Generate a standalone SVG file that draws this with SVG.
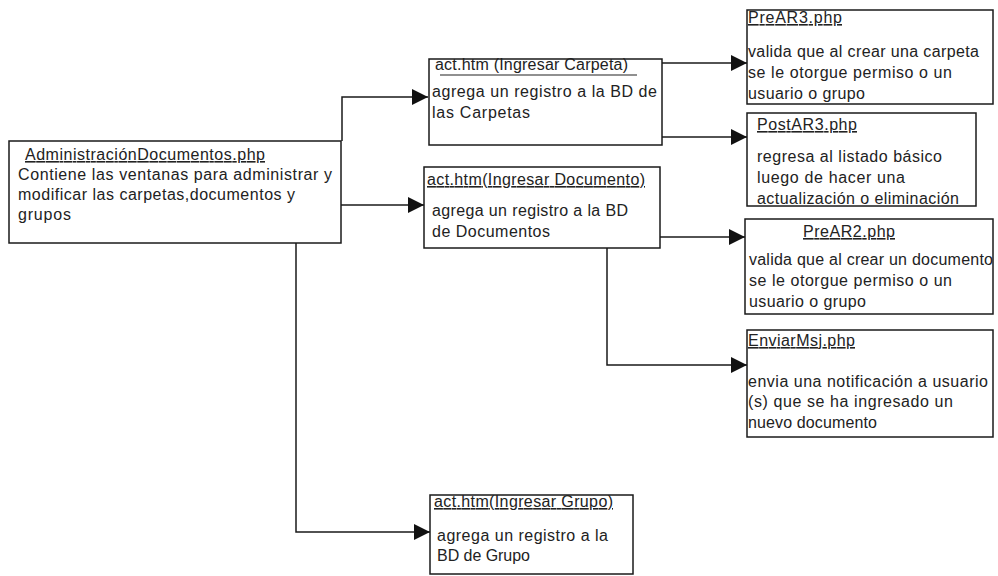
<svg xmlns="http://www.w3.org/2000/svg" width="998" height="576" viewBox="0 0 998 576">
<style>
.box{fill:none;stroke:#1a1a1a;stroke-width:1.5}
.t{font-family:"Liberation Sans",Arial,sans-serif;font-size:16px;fill:#222}
.u{text-decoration:underline}
.c{fill:none;stroke:#1a1a1a;stroke-width:1.5}
</style>
<defs>
<marker id="ah" markerUnits="userSpaceOnUse" markerWidth="17" markerHeight="17" refX="16" refY="8" orient="auto">
<path d="M0,0 L16,8 L0,16 Z" fill="#111"/>
</marker>
</defs>
<rect width="998" height="576" fill="#fff"/>
<g id="connectors">
<path class="c" d="M342,141 V97 H428" marker-end="url(#ah)"/>
<path class="c" d="M341,205 H424" marker-end="url(#ah)"/>
<path class="c" d="M296,243 V532 H430" marker-end="url(#ah)"/>
<path class="c" d="M662,63 H747" marker-end="url(#ah)"/>
<path class="c" d="M662,137 H747" marker-end="url(#ah)"/>
<path class="c" d="M660,237 H745" marker-end="url(#ah)"/>
<path class="c" d="M607,248 V365 H747" marker-end="url(#ah)"/>
</g>
<g id="admin">
<rect class="box" x="9" y="141" width="332" height="102"/>
<text class="t u" x="25" y="160" textLength="240" lengthAdjust="spacing">AdministraciónDocumentos.php</text>
<text class="t" x="18" y="180" textLength="314" lengthAdjust="spacing">Contiene las ventanas para administrar y</text>
<text class="t" x="18" y="200" textLength="277" lengthAdjust="spacing">modificar las carpetas,documentos y</text>
<text class="t" x="18" y="220" textLength="53" lengthAdjust="spacing">grupos</text>
</g>
<g id="carpeta">
<rect class="box" x="429" y="59" width="233" height="86"/>
<text class="t" x="435" y="70" textLength="193" lengthAdjust="spacing">act.htm (Ingresar Carpeta)</text>
<line x1="440" y1="75" x2="637" y2="75" stroke="#222" stroke-width="1.2"/>
<text class="t" x="432" y="97" textLength="225" lengthAdjust="spacing">agrega un registro a la BD de</text>
<text class="t" x="432" y="118" textLength="98" lengthAdjust="spacing">las Carpetas</text>
</g>
<g id="documento">
<rect class="box" x="424" y="167" width="236" height="81"/>
<text class="t u" x="427" y="185" textLength="218" lengthAdjust="spacing">act.htm(Ingresar Documento)</text>
<text class="t" x="432" y="216" textLength="196" lengthAdjust="spacing">agrega un registro a la BD</text>
<text class="t" x="432" y="237" textLength="118" lengthAdjust="spacing">de Documentos</text>
</g>
<g id="grupo">
<rect class="box" x="430" y="495" width="203" height="79"/>
<text class="t u" x="434" y="507" textLength="179" lengthAdjust="spacing">act.htm(Ingresar Grupo)</text>
<text class="t" x="437" y="541" textLength="171" lengthAdjust="spacing">agrega un registro a la</text>
<text class="t" x="437" y="561" textLength="93" lengthAdjust="spacing">BD de Grupo</text>
</g>
<g id="prear3">
<rect class="box" x="747" y="10" width="246" height="94"/>
<text class="t u" x="748" y="23" textLength="94" lengthAdjust="spacing">PreAR3.php</text>
<text class="t" x="748" y="57" textLength="231" lengthAdjust="spacing">valida que al crear una carpeta</text>
<text class="t" x="748" y="78" textLength="204" lengthAdjust="spacing">se le otorgue permiso o un</text>
<text class="t" x="748" y="99" textLength="117" lengthAdjust="spacing">usuario o grupo</text>
</g>
<g id="postar3">
<rect class="box" x="747" y="113" width="229" height="93"/>
<text class="t u" x="757" y="130" textLength="100" lengthAdjust="spacing">PostAR3.php</text>
<text class="t" x="757" y="162" textLength="185" lengthAdjust="spacing">regresa al listado básico</text>
<text class="t" x="757" y="183" textLength="148" lengthAdjust="spacing">luego de hacer una</text>
<text class="t" x="757" y="204" textLength="202" lengthAdjust="spacing">actualización o eliminación</text>
</g>
<g id="prear2">
<rect class="box" x="745" y="219" width="248" height="95"/>
<text class="t u" x="803" y="237" textLength="92" lengthAdjust="spacing">PreAR2.php</text>
<text class="t" x="749" y="265" textLength="244" lengthAdjust="spacing">valida que al crear un documento</text>
<text class="t" x="749" y="286" textLength="203" lengthAdjust="spacing">se le otorgue permiso o un</text>
<text class="t" x="749" y="307" textLength="117" lengthAdjust="spacing">usuario o grupo</text>
</g>
<g id="enviarmsj">
<rect class="box" x="747" y="330" width="246" height="107"/>
<text class="t u" x="748" y="346" textLength="107" lengthAdjust="spacing">EnviarMsj.php</text>
<text class="t" x="748" y="387" textLength="240" lengthAdjust="spacing">envia una notificación a usuario</text>
<text class="t" x="748" y="407" textLength="205" lengthAdjust="spacing">(s) que se ha ingresado un</text>
<text class="t" x="748" y="428" textLength="129" lengthAdjust="spacing">nuevo documento</text>
</g>
</svg>
